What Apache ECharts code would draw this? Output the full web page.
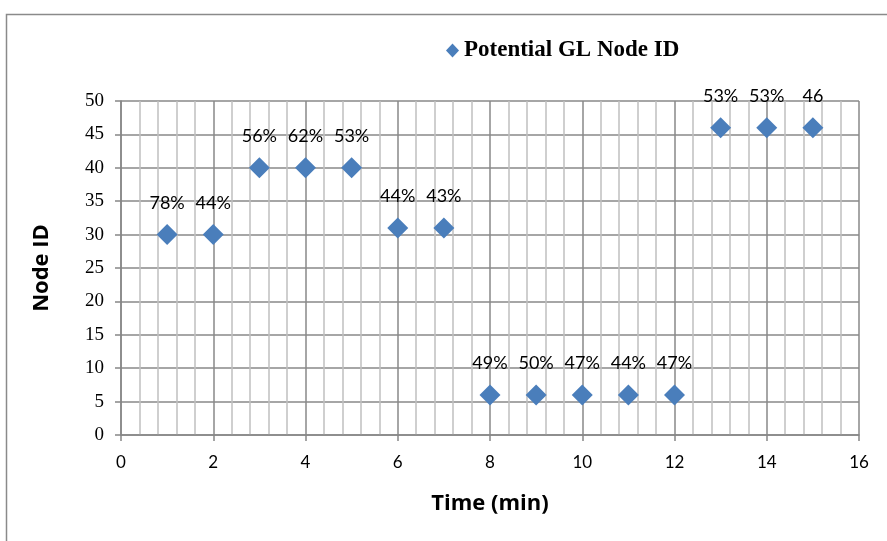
<!DOCTYPE html>
<html><head><meta charset="utf-8">
<script src="https://cdn.jsdelivr.net/npm/echarts@6/dist/echarts.min.js"></script>
<style>html,body{margin:0;padding:0;background:#fff}#c{width:887px;height:541px}</style>
</head><body><div id="c"></div>
<script>
const times = [1,2,3,4,5,6,7,8,9,10,11,12,13,14,15];
const nodeIds = [30,30,40,40,40,31,31,6,6,6,6,6,46,46,46];
const pointLabels = ['78%','44%','56%','62%','53%','44%','43%','49%','50%','47%','44%','47%','53%','53%','46'];
const seriesName = 'Potential GL Node ID';

const chart = echarts.init(document.getElementById('c'));
chart.setOption({
  animation:false,
  backgroundColor:'#fff',
  graphic:[{type:'rect',shape:{x:6.5,y:14.5,width:1000,height:700},style:{fill:'none',stroke:'#8a8a8a',lineWidth:1.5},silent:true}],
  legend:{
    data:[seriesName], left:441, top:34, icon:'diamond', itemWidth:13, itemHeight:14, itemGap:5,
    textStyle:{fontFamily:'Liberation Serif',fontWeight:'bold',fontSize:23,color:'#000'}
  },
  grid:{left:121,right:28,top:101,bottom:106},
  xAxis:{
    type:'value',min:0,max:16,interval:2,
    name:'Time (min)',nameLocation:'middle',nameGap:58,
    nameTextStyle:{fontFamily:'Open Sans',fontWeight:'bold',fontSize:22,color:'#000'},
    axisLine:{show:true,lineStyle:{color:'#868686',width:1.5}},
    axisTick:{show:true,length:6,lineStyle:{color:'#868686',width:1.5}},
    axisLabel:{fontFamily:'Lato',fontSize:17,color:'#000',margin:19},
    splitLine:{show:true,lineStyle:{color:'#888',width:1.5}},
    minorTick:{show:false,splitNumber:5},
    minorSplitLine:{show:true,lineStyle:{color:'#c0c0c0',width:1.5}}
  },
  yAxis:{
    type:'value',min:0,max:50,interval:5,
    name:'Node ID',nameLocation:'middle',nameGap:68,nameRotate:90,
    nameTextStyle:{fontFamily:'Open Sans',fontWeight:'bold',fontSize:22,color:'#000'},
    axisLine:{show:true,lineStyle:{color:'#868686',width:1.5}},
    axisTick:{show:true,length:6,lineStyle:{color:'#868686',width:1.5}},
    axisLabel:{fontFamily:'Liberation Serif',fontSize:19,color:'#000',margin:17},
    splitLine:{show:true,lineStyle:{color:'#888',width:1.5}}
  },
  series:[{
    name:seriesName,type:'scatter',symbol:'diamond',symbolSize:[21,21],
    itemStyle:{color:'#4a7ebb',opacity:1},
    data:times.map((t,i)=>[t,nodeIds[i]]),
    label:{show:true,position:'top',distance:12,
      formatter:p=>pointLabels[p.dataIndex],
      fontFamily:'Lato',fontSize:18,color:'#000'}
  }]
});
</script></body></html>
